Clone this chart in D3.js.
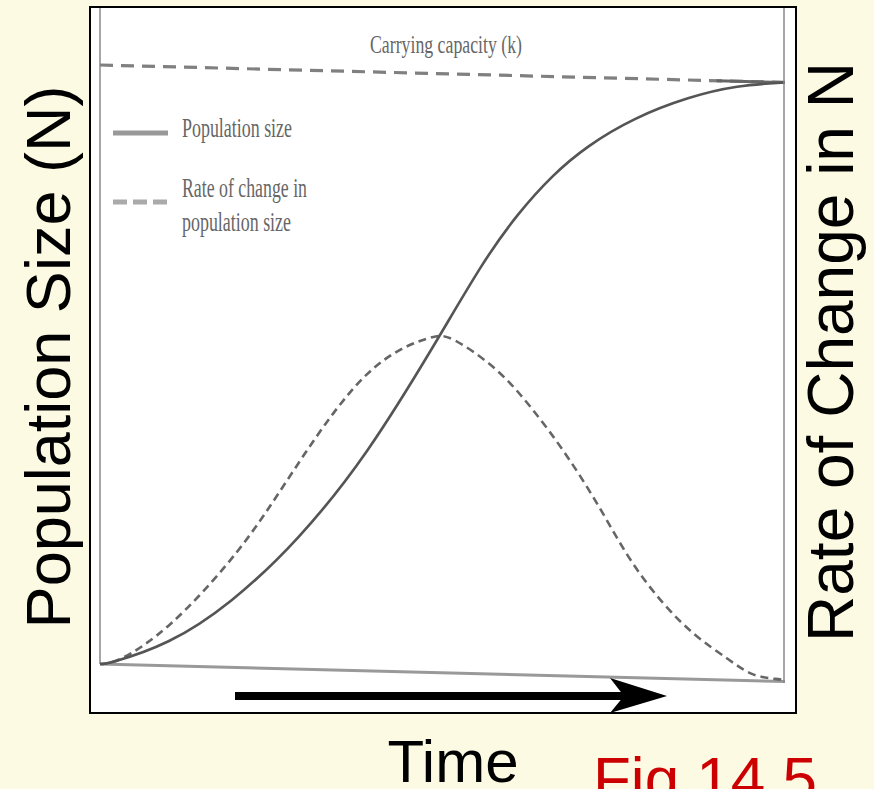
<!DOCTYPE html>
<html>
<head>
<meta charset="utf-8">
<script src="https://cdn.jsdelivr.net/npm/d3@7"></script>
<style>
  html, body { margin: 0; padding: 0; background: #FDFAE3; }
  svg { display: block; }
</style>
</head>
<body>
<svg id="chart" width="874" height="789"></svg>
<script>
// ---- data (arbitrary units, K = 1000) ----
const carryingCapacity = 1000;
const popTime   = [0, 1, 10, 19, 29, 39, 49, 56, 61, 66, 71, 78, 86, 93, 100];
const popSize   = [0, 0, 35, 105, 215, 360, 550, 690, 770, 835, 885, 935, 972, 993, 1000];
const rateTime  = [0, 2.5, 10, 19, 24, 29, 34, 39, 44, 49, 51, 58, 63, 68, 73, 77, 82, 87, 92, 95, 99, 100];
const rateValue = [0, 2, 60, 175, 255, 345, 430, 500, 542, 563, 564, 512, 447, 372, 283, 200, 125, 70, 33, 8, 3, 3];
const legendLabels = ["Population size", "Rate of change in", "population size"];
const kLabel = "Carrying capacity (k)";
const yLabelLeft = "Population Size (N)";
const yLabelRight = "Rate of Change in N";
const xLabel = "Time";
const figLabel = "Fig 14.5";

const svg = d3.select("#chart");

// frame
svg.append("rect").attr("x", 90).attr("y", 7).attr("width", 706).attr("height", 706)
  .attr("fill", "#ffffff").attr("stroke", "#000").attr("stroke-width", 2);

const x = d3.scaleLinear().domain([0, 100]).range([100, 785]);
const y = d3.scaleLinear().domain([0, carryingCapacity]).range([664, 65]);

// the scanned figure is slightly skewed: shear the plot around x=100
const s = 0.0255;
const plot = svg.append("g")
  .attr("transform", `matrix(1,${s},0,1,0,${-s * 100})`);

// inner gray frame lines
plot.append("line").attr("x1", x(0)).attr("x2", x(0)).attr("y1", 8).attr("y2", y(0))
  .attr("stroke", "#888").attr("stroke-width", 1.5);
svg.append("line").attr("x1", 784).attr("x2", 784).attr("y1", 8).attr("y2", 683)
  .attr("stroke", "#888").attr("stroke-width", 1.5);

// baseline (time axis)
plot.append("line").attr("x1", x(0)).attr("x2", x(100)).attr("y1", y(0)).attr("y2", y(0))
  .attr("stroke", "#999").attr("stroke-width", 3);

// carrying capacity
plot.append("line").attr("x1", x(0)).attr("x2", x(100))
  .attr("y1", y(carryingCapacity)).attr("y2", y(carryingCapacity))
  .attr("stroke", "#808080").attr("stroke-width", 3.2).attr("stroke-dasharray", "13,8");
plot.append("line").attr("x1", x(90)).attr("x2", x(100))
  .attr("y1", y(carryingCapacity)).attr("y2", y(carryingCapacity))
  .attr("stroke", "#666").attr("stroke-width", 3);

const popData = popTime.map((t, i) => ({ t, v: popSize[i] }));
const rateData = rateTime.map((t, i) => ({ t, v: rateValue[i] }));
const line = d3.line().x(d => x(d.t)).y(d => y(d.v)).curve(d3.curveBasis);

plot.append("path").datum(rateData).attr("d", line)
  .attr("fill", "none").attr("stroke", "#666").attr("stroke-width", 2.6)
  .attr("stroke-dasharray", "8,5");
plot.append("path").datum(popData).attr("d", line)
  .attr("fill", "none").attr("stroke", "#555").attr("stroke-width", 2.6);

// carrying capacity label
svg.append("text").attr("x", 370).attr("y", 53).text(kLabel)
  .attr("font-family", "Liberation Serif, serif").attr("font-size", 26)
  .attr("fill", "#666").attr("textLength", 152).attr("lengthAdjust", "spacingAndGlyphs");

// legend
svg.append("line").attr("x1", 113).attr("x2", 168).attr("y1", 133).attr("y2", 133)
  .attr("stroke", "#999").attr("stroke-width", 5);
svg.append("line").attr("x1", 113).attr("x2", 168).attr("y1", 202).attr("y2", 202)
  .attr("stroke", "#aaa").attr("stroke-width", 5).attr("stroke-dasharray", "14,6");
const legY = [137, 197, 231];
const legW = [110, 125, 109];
legendLabels.forEach((l, i) => {
  svg.append("text").attr("x", 182).attr("y", legY[i]).text(l)
    .attr("font-family", "Liberation Serif, serif").attr("font-size", 27)
    .attr("fill", "#666").attr("textLength", legW[i]).attr("lengthAdjust", "spacingAndGlyphs");
});

// time arrow
svg.append("line").attr("x1", 235).attr("x2", 630).attr("y1", 696).attr("y2", 696)
  .attr("stroke", "#000").attr("stroke-width", 8);
svg.append("path").attr("d", "M667,696 L610,678 L624,696 L610,713 Z").attr("fill", "#000");

// big labels
const big = "Liberation Sans, Arial, sans-serif";
svg.append("text").attr("transform", "translate(70,357) rotate(-90)")
  .attr("text-anchor", "middle").attr("font-family", big).attr("font-size", 63)
  .attr("fill", "#000").text(yLabelLeft);
svg.append("text").attr("transform", "translate(853,352) rotate(-90)")
  .attr("text-anchor", "middle").attr("font-family", big).attr("font-size", 64)
  .attr("fill", "#000").text(yLabelRight);
svg.append("text").attr("x", 453).attr("y", 782)
  .attr("text-anchor", "middle").attr("font-family", big).attr("font-size", 60)
  .attr("fill", "#000").text(xLabel);
svg.append("text").attr("x", 593).attr("y", 800)
  .attr("font-family", big).attr("font-size", 62)
  .attr("fill", "#CC0000").text(figLabel);
</script>
</body>
</html>
